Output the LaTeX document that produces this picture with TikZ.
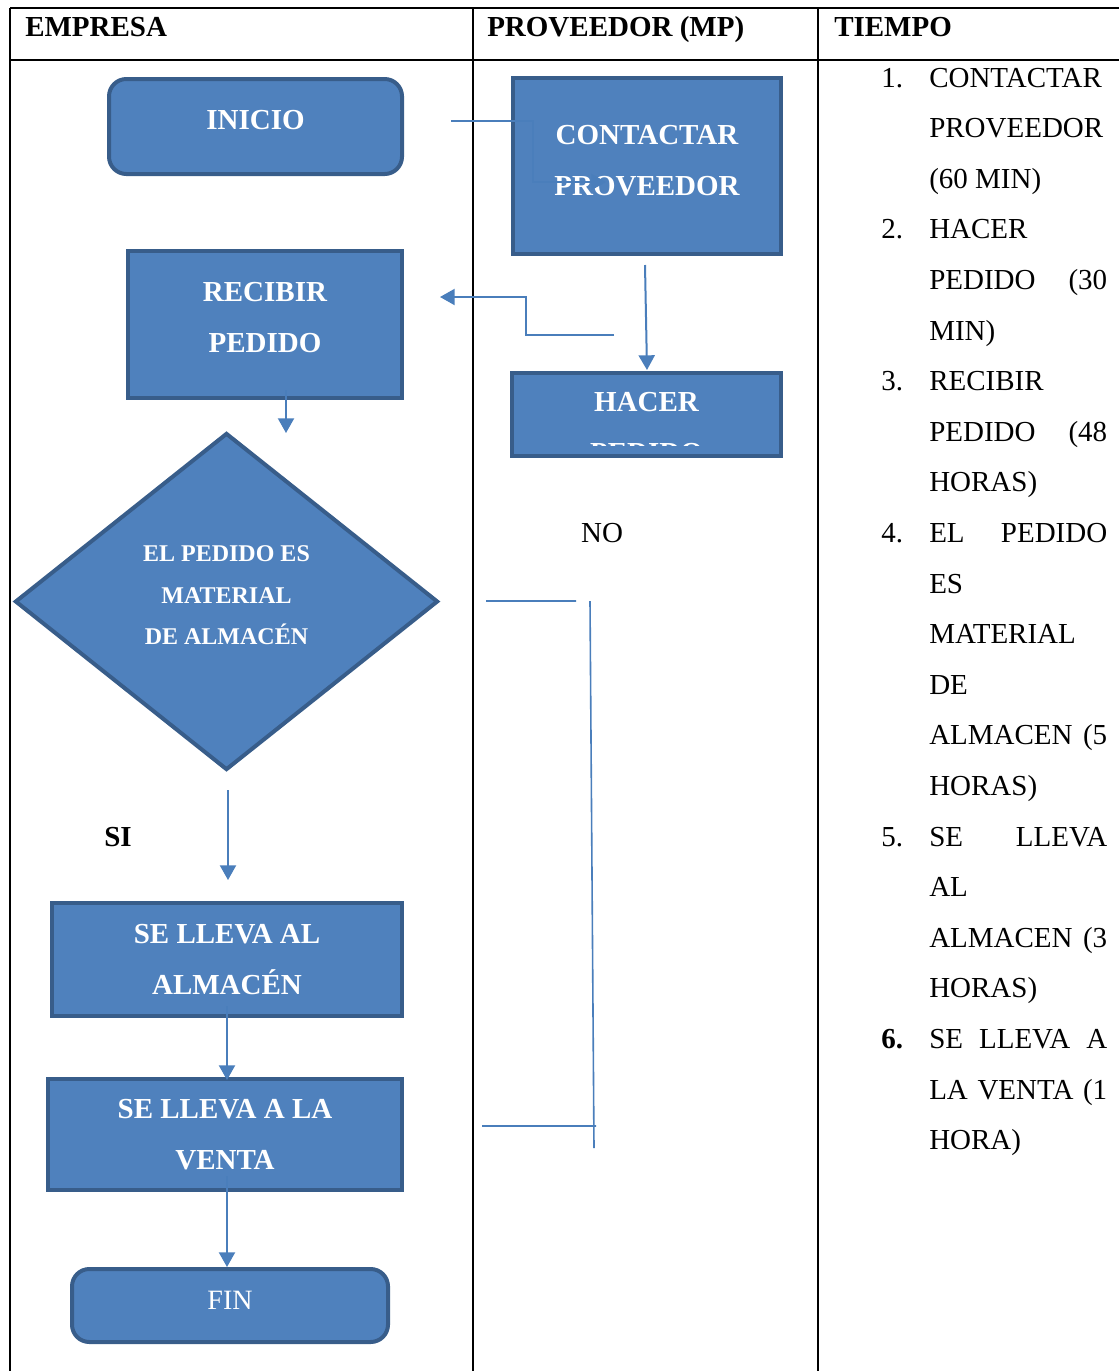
\documentclass[tikz,border=0pt]{standalone}
\usepackage{fontspec}
\setmainfont{Liberation Serif}
\usetikzlibrary{arrows.meta,shapes.geometric}
\definecolor{boxfill}{HTML}{4F81BD}
\definecolor{boxline}{HTML}{385D8A}
\definecolor{connblue}{HTML}{4A7EBB}
\newcommand\bigtxt{\fontsize{21.75}{38.25}\selectfont}
\newcommand\decitxt{\fontsize{18}{31.1}\selectfont}
\newcommand\jst[1]{\hbox to 133.5pt{#1}}
\newcommand\jsp[1]{\makebox[133.5pt][s]{#1}}

\begin{document}
\begin{tikzpicture}[x=.75pt,y=-.75pt,
box/.style={draw=boxline,fill=boxfill,line width=3pt,text=white,align=center,font=\bigtxt\bfseries,inner sep=0pt},
rbox/.style={box,rounded corners=13pt},
dec/.style={box,shape=diamond,font=\decitxt\bfseries},
arr/.style={-{Triangle[width=12pt,length=11pt]},line width=1.5pt,draw=connblue},
ln/.style={line width=1.2pt,draw=connblue},
hd/.style={anchor=base west,inner sep=0pt,font=\bigtxt\bfseries},
tl/.style={anchor=base west,inner sep=0pt,font=\bigtxt}]

\useasboundingbox(0,0)rectangle(1119,1371);
\draw[line width=1.9pt](10,8)--(1119,8)(10,60)--(1119,60)(10,8)--(10,1371)(473,8)--(473,1371)(818,8)--(818,1371);
\node[hd](hempresa)at(25,36){EMPRESA};
\node[hd](hprov)at(487,36){PROVEEDOR (MP)};
\node[hd](htiempo)at(834,36){TIEMPO};

\node[rbox,text depth=10.5pt,minimum width=219.75pt,minimum height=71.25pt](inicio)at(255.5,126.5){INICIO};
\node[box,text depth=10.5pt,minimum width=205.5pt,minimum height=110.25pt](recibir)at(265,324.5){RECIBIR\\PEDIDO};
\node[dec,text depth=9pt,minimum width=317.25pt,minimum height=252.75pt](material)at(226.5,601.5){EL PEDIDO ES\\MATERIAL\\DE ALMACÉN};
\node[box,minimum width=262.5pt,minimum height=84.75pt](almacen)at(227,959.5){SE LLEVA AL\\ALMACÉN};
\node[box,minimum width=265.5pt,minimum height=83.25pt](venta)at(225,1134.5){SE LLEVA A LA\\VENTA};
\node[rbox,font=\fontsize{21}{30}\selectfont,text depth=7.5pt,minimum width=237pt,minimum height=54.75pt](fin)at(230,1305.5){FIN};
\node[box,text depth=9pt,minimum width=201pt,minimum height=132pt](contactar)at(647,166){CONTACTAR\\PROVEEDOR};
\node[box,minimum width=201.75pt,minimum height=62.25pt](hacer)at(646.5,414.5){};
\begin{scope}
\clip(510,371)rectangle(783,445);
\node[box,draw=none,fill=none](hacertxt)at(646.5,427.5){HACER\\PEDIDO};
\end{scope}

\node[font=\bigtxt\bfseries,inner sep=0pt](si)at(118,837){SI};
\node[font=\bigtxt,inner sep=0pt](no)at(602,533){NO};

\coordinate(a1)at(451,121);\coordinate(a2)at(606,182);
\draw[arr](a1)-|(533,182)--(a2);
\coordinate(b1)at(645,265);\coordinate(b2)at(647,370);
\draw[arr](b1)--(b2);
\coordinate(c1)at(614,335);\coordinate(c2)at(440,297);
\draw[arr](c1)--(526,335)|-(c2);
\coordinate(d1)at(286,390);\coordinate(d2)at(286,433);
\draw[arr](d1)--(d2);
\coordinate(e1)at(228,790);\coordinate(e2)at(228,880);
\draw[arr](e1)--(e2);
\coordinate(f1)at(227,1006);\coordinate(f2)at(227,1080);
\draw[arr](f1)--(f2);
\coordinate(g1)at(227,1176);\coordinate(g2)at(227,1267);
\draw[arr](g1)--(g2);
\coordinate(h1)at(486,601);\coordinate(h2)at(576,601);
\coordinate(h3)at(590,601);\coordinate(h4)at(594,1148);
\coordinate(h5)at(482,1126);\coordinate(h6)at(596,1126);
\draw[ln](h1)--(h2)(h3)--(h4)(h5)--(h6);

\foreach \txt [count=\i from 0] in {\jsp{CONTACTAR},PROVEEDOR,{(60 MIN)},HACER,{\jst{PEDIDO\hfil(30}},{MIN)},RECIBIR,{\jst{PEDIDO\hfil(48}},{HORAS)},{\jst{EL\hfil PEDIDO}},ES,MATERIAL,DE,{\jsp{ALMACEN (5}},{HORAS)},{\jst{SE\hfil LLEVA}},AL,{\jsp{ALMACEN (3}},{HORAS)},{\jsp{SE LLEVA A}},{\jsp{LA VENTA (1}},{HORA)}}
  {\node[tl](t\i)at(929,{87+50.6*\i}){\txt};}
\foreach \k/\r in {1/0,2/3,3/6,4/9,5/15}
  {\node[tl](n\k)at(881,{87+50.6*\r}){\k.};}
\node[hd](n6)at(881,{87+50.6*19}){6.};
\end{tikzpicture}
\end{document}
